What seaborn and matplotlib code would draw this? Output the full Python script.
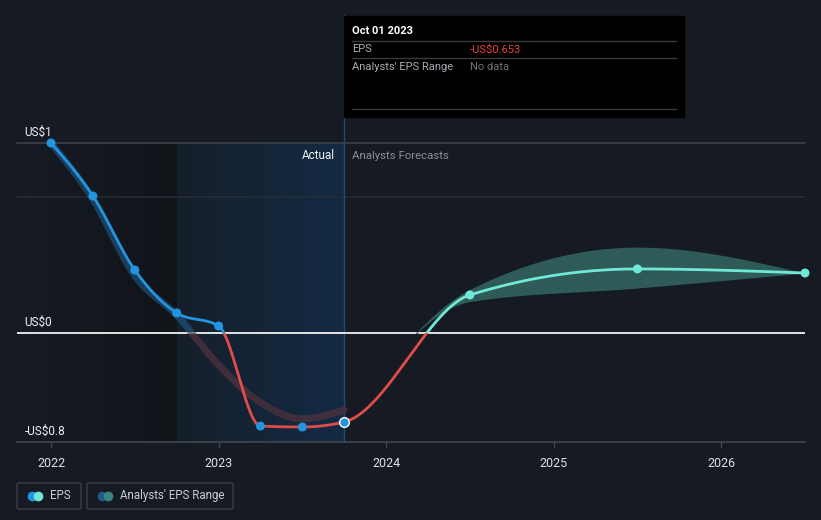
import numpy as np
import pandas as pd
import matplotlib
matplotlib.use("Agg")
import matplotlib.pyplot as plt
import seaborn as sns
from matplotlib.patches import Rectangle, FancyBboxPatch
from matplotlib.colors import LinearSegmentedColormap
from matplotlib.lines import Line2D

# ---------------- data ----------------
past_x = [2022.0, 2022.25, 2022.5, 2022.75, 2023.0, 2023.25, 2023.5, 2023.75]
past_eps = [1.394, 1.005, 0.462, 0.147, 0.051, -0.683, -0.690, -0.653]
past_est_eps = [1.394, 0.98, 0.42, 0.13, -0.235, -0.51, -0.63, -0.565]
fc_x = [2023.75, 2024.5, 2025.5, 2026.5]
fc_eps = [-0.653, 0.279, 0.470, 0.440]
fc_low = [-0.653, 0.23, 0.33, 0.44]
fc_high = [-0.653, 0.32, 0.63, 0.44]
year_ticks = [2022, 2023, 2024, 2025, 2026]
y_labels = {1.394: "US$1", 0.0: "US$0", -0.8: "-US$0.8"}
actual_start, actual_end = 2022.75, 2023.75

# ---------------- style ----------------
BG = "#151a23"
BLUE = "#2394df"
RED = "#e24b4b"
TEAL = "#71e7d6"
W, H = 821, 520

sns.set_theme(style="dark")
plt.rcParams["font.family"] = ["Roboto", "DejaVu Sans"]


def monotone(xs, ys, n=600):
    x = np.asarray(xs, float)
    y = np.asarray(ys, float)
    h = np.diff(x)
    s = np.diff(y) / h
    m = np.zeros_like(y)
    for i in range(1, len(x) - 1):
        p = (s[i - 1] * h[i] + s[i] * h[i - 1]) / (h[i - 1] + h[i])
        m[i] = (np.sign(s[i - 1]) + np.sign(s[i])) * min(abs(s[i - 1]), abs(s[i]), 0.5 * abs(p))
    if len(x) > 2:
        m[0] = (3 * s[0] - m[1]) / 2
        m[-1] = (3 * s[-1] - m[-2]) / 2
    else:
        m[0] = m[-1] = s[0]
    xx = np.linspace(x[0], x[-1], n)
    idx = np.clip(np.searchsorted(x, xx, side="right") - 1, 0, len(h) - 1)
    t = (xx - x[idx]) / h[idx]
    hh = h[idx]
    h00 = 2 * t**3 - 3 * t**2 + 1
    h10 = t**3 - 2 * t**2 + t
    h01 = -2 * t**3 + 3 * t**2
    h11 = t**3 - t**2
    yy = h00 * y[idx] + h10 * hh * m[idx] + h01 * y[idx + 1] + h11 * hh * m[idx + 1]
    return xx, yy


fig = plt.figure(figsize=(W / 100, H / 100), dpi=100, facecolor=BG)
ax_l, ax_r, ax_t, ax_b = 17, 805, 143, 442
ax = fig.add_axes([ax_l / W, 1 - ax_b / H, (ax_r - ax_l) / W, (ax_b - ax_t) / H])
ax.set_facecolor(BG)
XMIN, XMAX = 2021.797, 2026.50
YMIN, YMAX = -0.8, 1.394

# background regions
cm_left = LinearSegmentedColormap.from_list("l", ["#161b24", "#111419"])
ax.imshow(np.linspace(0, 1, 256)[None, :], cmap=cm_left, aspect="auto",
          extent=[XMIN, actual_start, YMIN, YMAX], zorder=0)
cm_act = LinearSegmentedColormap.from_list("a", ["#161f2b", "#132b43"])
ax.imshow(np.linspace(0, 1, 256)[None, :], cmap=cm_act, aspect="auto",
          extent=[actual_start, actual_end, YMIN, YMAX], zorder=0)
ax.set_xlim(XMIN, XMAX)
ax.set_ylim(YMIN, YMAX)

# grid lines
ax.axhline(1.0, color="#262c35", lw=1.2, zorder=1)
ax.axhline(YMAX, color="#3b4149", lw=1.2, zorder=1, clip_on=False)
ax.axhline(0.0, color="#f2f2f2", lw=1.3, zorder=3)
ax.axvline(actual_end, ymin=0, ymax=(ax_b - 15) / (ax_b - ax_t), color="#1d4d72",
           lw=1.0, zorder=2, clip_on=False)


def rect(x0, y0, w, h):
    return Rectangle((x0, y0), w, h, transform=ax.transData)


def clip_new(n0, patch):
    for ln in ax.lines[n0:]:
        ln.set_clip_path(patch)


# past analyst estimate band (thick faded line)
ex, ey = monotone(past_x, past_est_eps)
df_est = pd.DataFrame({"x": ex, "y": ey})
n0 = len(ax.lines)
sns.lineplot(data=df_est, x="x", y="y", ax=ax, color="#1f5480", lw=5, alpha=0.65,
             sort=False, estimator=None, zorder=4)
clip_new(n0, rect(XMIN - 1, 0, 10, 10))
n0 = len(ax.lines)
sns.lineplot(data=df_est, x="x", y="y", ax=ax, color="#54323f", lw=5, alpha=0.7,
             sort=False, estimator=None, zorder=4)
clip_new(n0, rect(XMIN - 1, -10, 10, 10))

# forecast range band
bx, blo = monotone(fc_x, fc_low)
_, bhi = monotone(fc_x, fc_high)
f1 = ax.fill_between(bx, blo, bhi, color="#2e5a58", lw=0, zorder=4)
f1.set_clip_path(rect(XMIN - 1, 0, 10, 10))
f2 = ax.fill_between(bx, blo, bhi, color="#2a2228", lw=0, zorder=4)
f2.set_clip_path(rect(XMIN - 1, -10, 10, 10))

# EPS line (actual + forecast, one monotone curve)
all_x = past_x + fc_x[1:]
all_y = past_eps + fc_eps[1:]
lx, ly = monotone(all_x, all_y, n=1200)
df_line = pd.DataFrame({"x": lx, "y": ly})
for col, patch in [(BLUE, rect(XMIN - 1, 0, actual_end - XMIN + 1, 10)),
                   (TEAL, rect(actual_end, 0, 10, 10)),
                   (RED, rect(XMIN - 1, -10, 10, 10))]:
    n0 = len(ax.lines)
    sns.lineplot(data=df_line, x="x", y="y", ax=ax, color=col, lw=2.0,
                 sort=False, estimator=None, zorder=5)
    clip_new(n0, patch)

# points
df_past = pd.DataFrame({"x": past_x, "y": past_eps})
sns.scatterplot(data=df_past.iloc[:-1], x="x", y="y", ax=ax, color=BLUE, s=42,
                edgecolor="none", zorder=6, clip_on=False)
sns.scatterplot(data=df_past.iloc[-1:], x="x", y="y", ax=ax, color=BLUE, s=48,
                edgecolor="white", linewidth=1.0, zorder=7, clip_on=False)
df_fc = pd.DataFrame({"x": fc_x[1:], "y": fc_eps[1:]})
sns.scatterplot(data=df_fc, x="x", y="y", ax=ax, color=TEAL, s=42,
                edgecolor="none", zorder=6, clip_on=False)

# axes styling
for side in ["top", "right", "left"]:
    ax.spines[side].set_visible(False)
ax.spines["bottom"].set_color("#42474f")
ax.spines["bottom"].set_linewidth(1.2)
ax.set_xticks(year_ticks)
ax.set_xticklabels([str(y) for y in year_ticks])
ax.tick_params(axis="x", colors="#42474f", length=4, width=1, pad=7, labelsize=9,
               labelcolor="#dfe1e3", bottom=True)
ax.set_yticks([])
ax.set_xlabel("")
ax.set_ylabel("")
ax.grid(False)

for yv, txt in y_labels.items():
    ax.annotate(txt, xy=(0, yv), xycoords=("axes fraction", "data"),
                xytext=(5.5, 5), textcoords="offset points", ha="left", va="baseline",
                fontsize=8.5, color="#eef0f2", annotation_clip=False)

ax.annotate("Actual", xy=(actual_end, YMAX), xycoords="data", xytext=(-6.5, -11.5),
            textcoords="offset points", ha="right", va="baseline", fontsize=8.5,
            color="#f2f2f2")
ax.annotate("Analysts Forecasts", xy=(actual_end, YMAX), xycoords="data", xytext=(5.5, -11.5),
            textcoords="offset points", ha="left", va="baseline", fontsize=8.2,
            color="#8b9097")


# ---------------- figure-level overlays ----------------
def fx(px):
    return px / W


def fy(py):
    return 1 - py / H


fig.patches.append(Rectangle((fx(344), fy(117)), fx(684) - fx(344), fy(16) - fy(117),
                             transform=fig.transFigure, color="black", zorder=10))
for yy in [41, 58, 109]:
    fig.lines.append(Line2D([fx(352), fx(676)], [fy(yy), fy(yy)], transform=fig.transFigure,
                            color="#3a3a3a", lw=1, zorder=11))
fig.text(fx(352), fy(31), "Oct 01 2023", fontsize=8.0, fontweight="bold", color="white",
         va="center", ha="left", zorder=12)
fig.text(fx(352), fy(49.5), "EPS", fontsize=8.0, color="#a9adb2", va="center", zorder=12)
fig.text(fx(470), fy(49.5), "-US$0.653", fontsize=8.0, color="#e84040", va="center", zorder=12)
fig.text(fx(352), fy(66.5), "Analysts' EPS Range", fontsize=8.0, color="#a9adb2",
         va="center", zorder=12)
fig.text(fx(470), fy(66.5), "No data", fontsize=8.0, color="#70757b", va="center", zorder=12)

# legend
for (x0, x1, c1, c2, label) in [(17, 81, BLUE, TEAL, "EPS"),
                                (87, 233, "#1f5a8a", "#3a8580", "Analysts' EPS Range")]:
    fig.patches.append(FancyBboxPatch((fx(x0), fy(509)), fx(x1) - fx(x0), fy(483) - fy(509),
                                      boxstyle="round,pad=0,rounding_size=0.003",
                                      transform=fig.transFigure, facecolor="none",
                                      edgecolor="#3b4048", lw=1, zorder=10))
    fig.lines.append(Line2D([fx(x0 + 15)], [fy(495.5)], marker="o", markersize=7,
                            color=c1, mec="none", transform=fig.transFigure, zorder=11))
    fig.lines.append(Line2D([fx(x0 + 21)], [fy(495.5)], marker="o", markersize=7,
                            color=c2, mec="none", transform=fig.transFigure, zorder=12))
    fig.text(fx(x0 + 33), fy(495.5), label, fontsize=8.3, color="#c9cdd1", va="center",
             ha="left", zorder=12)

fig.savefig("out.png", dpi=100, facecolor=BG)
